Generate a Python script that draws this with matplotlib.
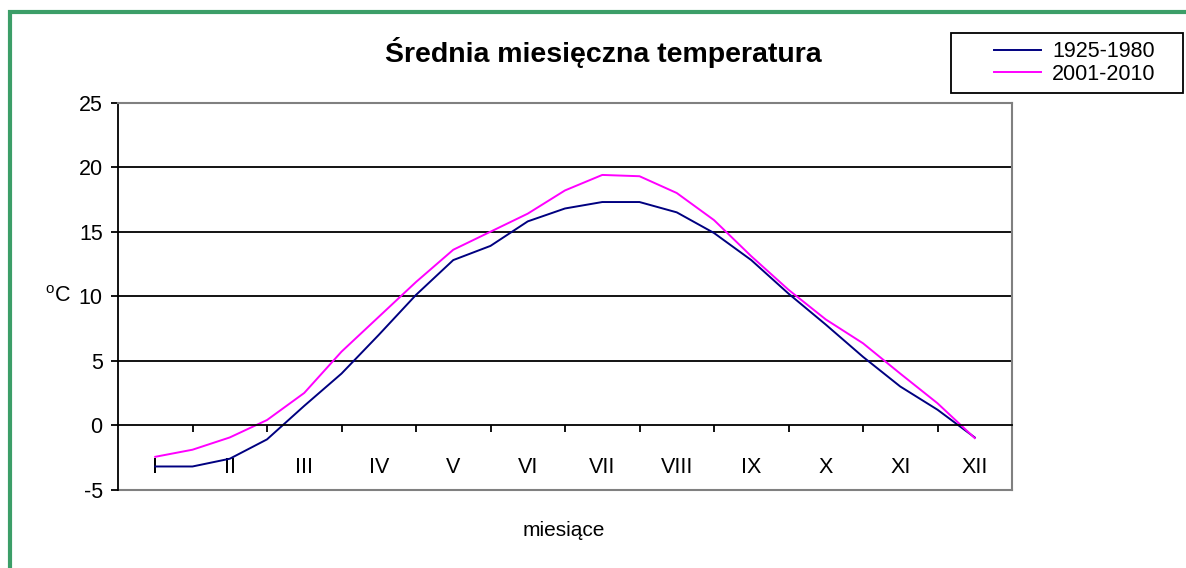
import matplotlib
matplotlib.use('Agg')
import matplotlib.pyplot as plt
import numpy as np
from matplotlib.patches import Rectangle

plt.rcParams['font.family'] = ['Liberation Sans', 'DejaVu Sans']
plt.rcParams['mathtext.fontset'] = 'custom'
plt.rcParams['mathtext.rm'] = 'Liberation Sans'
plt.rcParams['axes.unicode_minus'] = False

months = ['I', 'II', 'III', 'IV', 'V', 'VI', 'VII', 'VIII', 'IX', 'X', 'XI', 'XII']

# values read every half month (I ... XII)
pos = np.arange(1, 12.01, 0.5)
t_1925_1980 = [-3.2, -3.2, -2.6, -1.1, 1.5, 4.0, 7.0, 10.1, 12.8, 13.9, 15.8, 16.8,
               17.3, 17.3, 16.5, 14.9, 12.8, 10.2, 7.8, 5.3, 3.0, 1.2, -0.95]
t_2001_2010 = [-2.45, -1.9, -0.95, 0.4, 2.5, 5.7, 8.4, 11.1, 13.6, 15.0, 16.4, 18.2,
               19.4, 19.3, 18.0, 15.9, 13.1, 10.5, 8.2, 6.35, 4.0, 1.7, -1.0]

W, H = 1186, 568
fig = plt.figure(figsize=(W / 100, H / 100), dpi=100)
ax = fig.add_axes([118 / W, 1 - 489.7 / H, (1012 - 118) / W, (489.7 - 102.7) / H])

l1, = ax.plot(pos, t_1925_1980, color='#000080', lw=1.4, solid_joinstyle='round')
l2, = ax.plot(pos, t_2001_2010, color='#ff00ff', lw=1.4, solid_joinstyle='round')

ax.set_xlim(0.5, 12.5)
ax.set_ylim(-5, 25)

# horizontal gridlines
for v in [5, 10, 15, 20]:
    ax.axhline(v, color='black', lw=1.3, zorder=0)
ax.axhline(-5, color='#808080', lw=1.5, zorder=0, clip_on=False)

for s in ['top', 'right']:
    ax.spines[s].set_color('#808080')
    ax.spines[s].set_linewidth(1.5)
ax.spines['bottom'].set_position(('data', 0))
ax.spines['bottom'].set_color('black')
ax.spines['bottom'].set_linewidth(1.3)
ax.spines['left'].set_linewidth(1.3)

ax.set_yticks(range(-5, 26, 5))
ax.tick_params(axis='y', direction='out', length=5, width=1.3, labelsize=15.5, pad=6)

ax.set_xticks(range(1, 13))
ax.set_xticklabels(months)
ax.set_xticks(np.arange(1.5, 12.5, 1), minor=True)
ax.tick_params(axis='x', which='major', length=0, labelsize=15.5, pad=23)
ax.tick_params(axis='x', which='minor', direction='out', length=5, width=1.3)

ax.text(-47 / 894, 10, r'$^\mathrm{o}$C', transform=ax.get_yaxis_transform(),
        ha='right', va='center', fontsize=15.5)

fig.text(603 / W, 1 - 52 / H, 'Średnia miesięczna temperatura', ha='center', va='center',
         fontsize=20.5, fontweight='bold')
fig.text(564 / W, 1 - 530 / H, 'miesiące', ha='center', va='center', fontsize=15)

# legend box
fig.patches.append(Rectangle((951 / W, 1 - 93 / H), (1183 - 951) / W, (93 - 33) / H,
                             transform=fig.transFigure, fill=True, facecolor='white',
                             edgecolor='black', lw=1.3))
fig.legend([l1, l2], ['1925-1980', '2001-2010'], loc='center left',
           bbox_to_anchor=(983 / W, 1 - 63 / H), frameon=False, fontsize=15.5,
           handlelength=2.2, handletextpad=0.5, labelspacing=0.05, borderpad=0)

# green frame (only top and left edges fall inside the image)
fig.patches.append(Rectangle((10 / W, -0.05), 1.1, 1.05 - 12 / H,
                             transform=fig.transFigure, fill=False,
                             edgecolor='#3c9e68', lw=3))

fig.savefig('out.png', dpi=100)
